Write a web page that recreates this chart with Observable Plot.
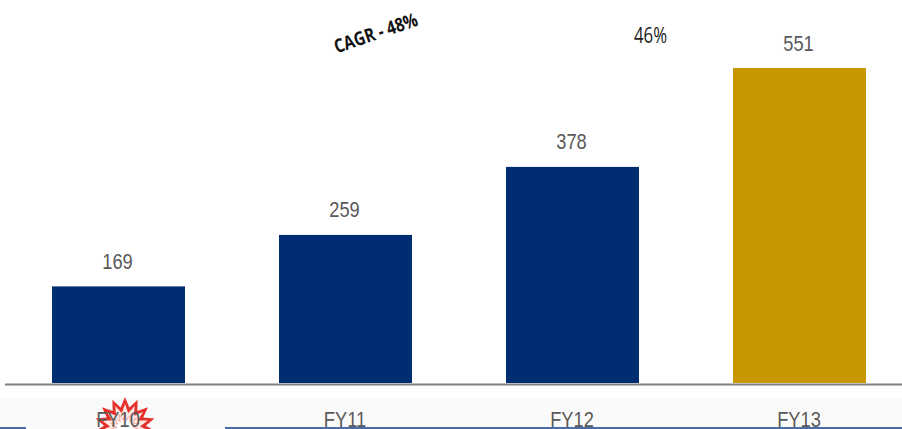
<!DOCTYPE html>
<html>
<head>
<meta charset="utf-8">
<style>
  html, body { margin: 0; padding: 0; background: #fff; overflow: hidden; }
  svg { display: block; }
</style>
<script src="https://cdn.jsdelivr.net/npm/d3@7"></script>
<script src="https://cdn.jsdelivr.net/npm/@observablehq/plot@0.6"></script>
</head>
<body>
<script>
const years = ["FY10", "FY11", "FY12", "FY13"];
const revenue = [169, 259, 378, 551];
const barColors = ["#002c71", "#002c71", "#002c71", "#c89600"];
const rows = years.map((year, i) => ({year, value: revenue[i]}));
const labelFont = "'Liberation Sans', Arial, sans-serif";
const noteFont = "'Open Sans', 'Noto Sans', sans-serif";

// Grey footer strip and the starburst emblem behind the first tick label.
function footer() {
  const g = d3.create("svg:g");
  g.append("rect").attr("x", 0).attr("y", 398).attr("width", 902).attr("height", 31).attr("fill", "#fafafa");
  const spikes = 15, cx = 125, cy = 428;
  const ring = (outer, inner) => d3.range(spikes * 2).map(k => {
    const r = k % 2 ? inner : outer, a = Math.PI * k / spikes - Math.PI / 2;
    return [cx + r * Math.cos(a), cy + r * Math.sin(a)].join(",");
  }).join(" ");
  g.append("polygon").attr("points", ring(31, 21)).attr("fill", "#e5312e");
  g.append("polygon").attr("points", ring(24, 15)).attr("fill", "#fdeae4");
  g.append("polygon").attr("points", ring(15, 8)).attr("fill", "#fff").attr("stroke", "#f4a79f").attr("stroke-width", 1);
  return g.node();
}

// The blue rule sits over the bottom edge of the tick labels.
function footerRule() {
  const g = d3.create("svg:g").attr("fill", "#4a6da7");
  g.append("rect").attr("x", 0).attr("y", 427).attr("width", 26).attr("height", 2);
  g.append("rect").attr("x", 225).attr("y", 427).attr("width", 677).attr("height", 2);
  return g.node();
}

const chart = Plot.plot({
  width: 902,
  height: 429,
  marginLeft: 5,
  marginRight: 0,
  marginTop: 0,
  marginBottom: 0,
  x: {domain: years, range: [5, 913], paddingInner: 0.414, paddingOuter: 0.207, label: null, axis: null},
  y: {domain: [0, 551], range: [383, 68], label: null, axis: null},
  color: {domain: years, range: barColors},
  style: {background: "transparent"},
  marks: [
    footer,
    Plot.barY(rows, {x: "year", y: "value", fill: "year"}),
    Plot.ruleY([0], {stroke: "#7f7f7f", strokeWidth: 2, dy: 1}),
    Plot.text(rows, {
      x: "year", y: "value", text: d => String(d.value), dx: -1.5, dy: -25,
      fill: "#595959", fontSize: 22, fontFamily: labelFont, className: "narrow"
    }),
    Plot.axisX({
      anchor: "bottom", tickSize: 0, tickPadding: 0, label: null, dx: -1, dy: -18,
      fill: "#595959", fontSize: 22, fontFamily: labelFont, className: "narrow"
    }),
    footerRule,
    Plot.text(["CAGR - 48%"], {
      frameAnchor: "top-left", textAnchor: "middle", dx: 368, dy: 26, rotate: -19,
      fill: "#111", fontSize: 19, fontWeight: 700, fontFamily: noteFont, className: "note-cagr"
    }),
    Plot.text(["46%"], {
      frameAnchor: "top-left", textAnchor: "middle", dx: 645, dy: 28,
      fill: "#222", fontSize: 21, fontFamily: noteFont, className: "note-growth"
    })
  ]
});
document.body.appendChild(chart);

// Condense glyphs horizontally; the installed sans faces run wider than the lettering here.
function condense(selector, factor) {
  chart.querySelectorAll(selector).forEach(t => {
    t.setAttribute("textLength", t.getComputedTextLength() * factor);
    t.setAttribute("lengthAdjust", "spacingAndGlyphs");
  });
}
condense(".narrow text", 0.83);
condense(".note-cagr text", 0.82);
condense(".note-growth text", 0.8);
</script>
</body>
</html>
